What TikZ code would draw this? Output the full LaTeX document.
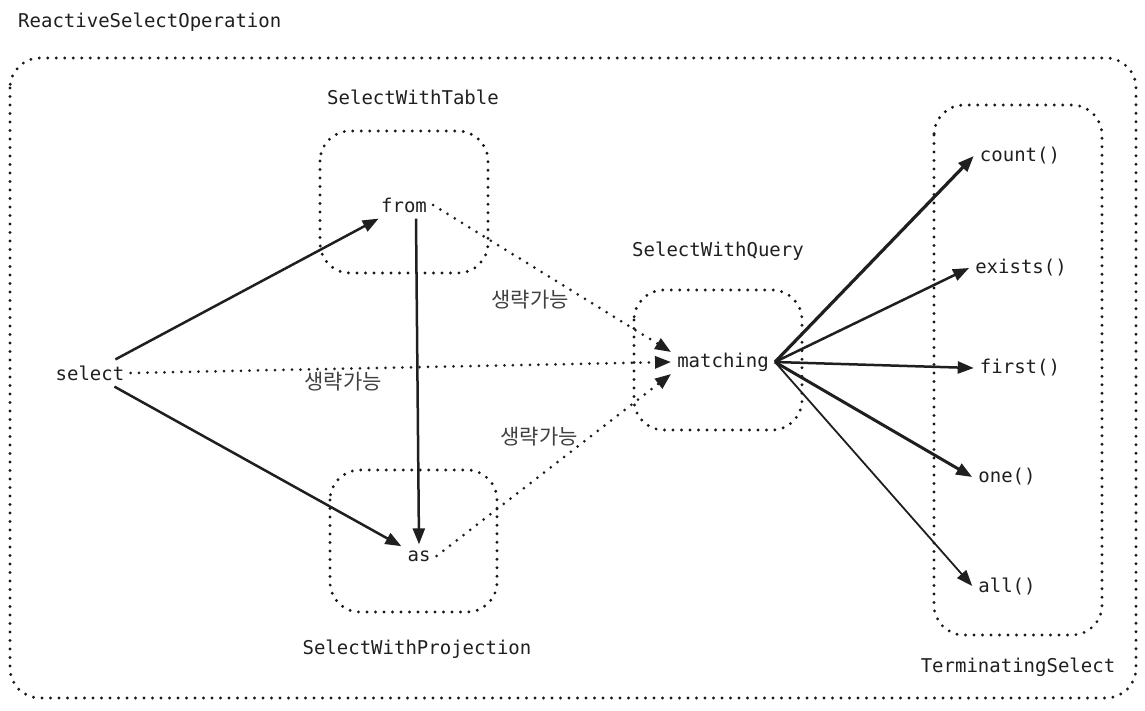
\documentclass[tikz,border=0pt]{standalone}
\usepackage{fontspec}
\setmonofont{DejaVu Sans Mono}
\newfontfamily\kofont{Noto Sans CJK KR}
\usetikzlibrary{arrows.meta}

\begin{document}
\begin{tikzpicture}[x=1pt,y=-1pt,
  grp/.style={draw=black!90,line width=3.2pt,dash pattern=on 0pt off 8.5pt,line cap=round,rounded corners=30pt},
  op/.style={font=\fontsize{19}{23}\ttfamily,text=black!88,inner sep=6pt},
  ttl/.style={font=\fontsize{19}{23}\ttfamily,text=black!88,inner sep=0pt},
  skip/.style={font=\fontsize{21}{25}\kofont,text=black!75,inner sep=0pt},
  flow/.style={draw=black!88,line width=2.5pt,-{Triangle[length=16pt,width=12pt]}},
  opt/.style={flow,line width=3pt,dash pattern=on 0pt off 8.5pt,line cap=round},
]
\useasboundingbox (0,0) rectangle (1145,710);

% group boxes
\draw [grp] (10,58) rectangle (1136,698);
\draw [grp] (320,131) rectangle (488,273);
\draw [grp] (634,290) rectangle (802,430);
\draw [grp] (330,470) rectangle (497,612);
\draw [grp] (934,105) rectangle (1102,635);

\node [ttl,anchor=west] (rsoLbl) at (18,22) {ReactiveSelectOperation};
\node [ttl] (tableLbl) at (413,97) {SelectWithTable};
\node [ttl] (queryLbl) at (718,251) {SelectWithQuery};
\node [ttl] (projLbl) at (417,649) {SelectWithProjection};
\node [ttl] (termLbl) at (1018,667) {TerminatingSelect};

% operations
\node [op] (select) at (90,373) {select};
\node [op] (from) at (404,205) {from};
\node [op] (as) at (419,556) {as};
\node [op] (matching) at (723,362) {matching};
\node [op] (count) at (1020,156) {count()};
\node [op] (exists) at (1021,268) {exists()};
\node [op] (first) at (1020,368) {first()};
\node [op] (one) at (1007,477) {one()};
\node [op] (all) at (1007,586) {all()};

\draw [flow] (select) -- (from);
\draw [flow] (select) -- (as);
\draw [flow] ([xshift=12pt]from.south) -- (as.north);
\draw [opt] (select.east) -- (matching.west);
\draw [opt] (from.east) -- ([yshift=10pt]matching.west);
\draw [opt] (as.east) -- ([yshift=-12pt]matching.west);
\node [skip] (skipA) at (343,382) {생략가능};
\node [skip] (skipB) at (530,300) {생략가능};
\node [skip] (skipC) at (539,437) {생략가능};

\draw [flow,line width=3.2pt] (matching.east) -- (count.west);
\draw [flow] (matching.east) -- (exists.west);
\draw [flow] (matching.east) -- (first.west);
\draw [flow,line width=3pt] (matching.east) -- (one.west);
\draw [flow,line width=1.8pt] (matching.east) -- (all.west);
\end{tikzpicture}
\end{document}
